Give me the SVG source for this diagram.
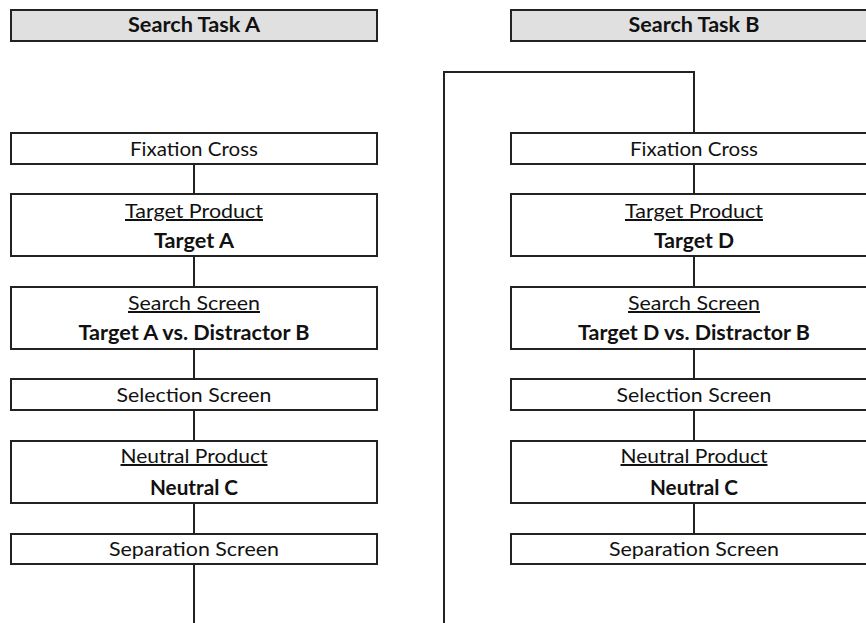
<svg xmlns="http://www.w3.org/2000/svg" width="866" height="623" viewBox="0 0 866 623">
<style>
.box{fill:#fff;stroke:#222;stroke-width:2}
.hdr{fill:#e0e0e0;stroke:#222;stroke-width:2}
.ln{fill:none;stroke:#222;stroke-width:2}
text{font-family:Lato,"Open Sans","Liberation Sans",sans-serif;font-size:20px;fill:#111;text-anchor:middle}
.b{font-weight:bold}
.u{text-decoration:underline}
</style>
<rect width="866" height="623" fill="#fff"/>
<g id="connectors">
<line class="ln" x1="194" y1="164" x2="194" y2="194"/>
<line class="ln" x1="194" y1="256" x2="194" y2="287"/>
<line class="ln" x1="194" y1="349" x2="194" y2="379"/>
<line class="ln" x1="194" y1="410" x2="194" y2="441"/>
<line class="ln" x1="194" y1="503" x2="194" y2="534"/>
<line class="ln" x1="194" y1="564" x2="194" y2="624"/>
<polyline class="ln" points="444,624 444,72 694,72 694,133"/>
<line class="ln" x1="694" y1="164" x2="694" y2="194"/>
<line class="ln" x1="694" y1="256" x2="694" y2="287"/>
<line class="ln" x1="694" y1="349" x2="694" y2="379"/>
<line class="ln" x1="694" y1="410" x2="694" y2="441"/>
<line class="ln" x1="694" y1="503" x2="694" y2="534"/>
</g>
<g id="headerA"><rect class="hdr" x="11" y="10" width="366" height="31"/><text class="b" x="194" y="32" textLength="132" lengthAdjust="spacingAndGlyphs">Search Task A</text></g>
<g id="fixA"><rect class="box" x="11" y="133" width="366" height="31"/><text x="194" y="156" textLength="128" lengthAdjust="spacingAndGlyphs">Fixation Cross</text></g>
<g id="targetA"><rect class="box" x="11" y="194" width="366" height="62"/><text class="u" x="194" y="218" textLength="138" lengthAdjust="spacingAndGlyphs">Target Product</text><text class="b" x="194" y="248" textLength="80" lengthAdjust="spacingAndGlyphs">Target A</text></g>
<g id="searchA"><rect class="box" x="11" y="287" width="366" height="62"/><text class="u" x="194" y="310" textLength="132" lengthAdjust="spacingAndGlyphs">Search Screen</text><text class="b" x="194" y="340" textLength="231" lengthAdjust="spacingAndGlyphs">Target A vs. Distractor B</text></g>
<g id="selA"><rect class="box" x="11" y="379" width="366" height="31"/><text x="194" y="402" textLength="155" lengthAdjust="spacingAndGlyphs">Selection Screen</text></g>
<g id="neutralA"><rect class="box" x="11" y="441" width="366" height="62"/><text class="u" x="194" y="463" textLength="147" lengthAdjust="spacingAndGlyphs">Neutral Product</text><text class="b" x="194" y="495" textLength="88" lengthAdjust="spacingAndGlyphs">Neutral C</text></g>
<g id="sepA"><rect class="box" x="11" y="534" width="366" height="30"/><text x="194" y="556" textLength="170" lengthAdjust="spacingAndGlyphs">Separation Screen</text></g>
<g id="headerB"><rect class="hdr" x="511" y="10" width="366" height="31"/><text class="b" x="694" y="32" textLength="131" lengthAdjust="spacingAndGlyphs">Search Task B</text></g>
<g id="fixB"><rect class="box" x="511" y="133" width="366" height="31"/><text x="694" y="156" textLength="128" lengthAdjust="spacingAndGlyphs">Fixation Cross</text></g>
<g id="targetB"><rect class="box" x="511" y="194" width="366" height="62"/><text class="u" x="694" y="218" textLength="138" lengthAdjust="spacingAndGlyphs">Target Product</text><text class="b" x="694" y="248" textLength="80" lengthAdjust="spacingAndGlyphs">Target D</text></g>
<g id="searchB"><rect class="box" x="511" y="287" width="366" height="62"/><text class="u" x="694" y="310" textLength="132" lengthAdjust="spacingAndGlyphs">Search Screen</text><text class="b" x="694" y="340" textLength="232" lengthAdjust="spacingAndGlyphs">Target D vs. Distractor B</text></g>
<g id="selB"><rect class="box" x="511" y="379" width="366" height="31"/><text x="694" y="402" textLength="155" lengthAdjust="spacingAndGlyphs">Selection Screen</text></g>
<g id="neutralB"><rect class="box" x="511" y="441" width="366" height="62"/><text class="u" x="694" y="463" textLength="147" lengthAdjust="spacingAndGlyphs">Neutral Product</text><text class="b" x="694" y="495" textLength="88" lengthAdjust="spacingAndGlyphs">Neutral C</text></g>
<g id="sepB"><rect class="box" x="511" y="534" width="366" height="30"/><text x="694" y="556" textLength="170" lengthAdjust="spacingAndGlyphs">Separation Screen</text></g>
</svg>
